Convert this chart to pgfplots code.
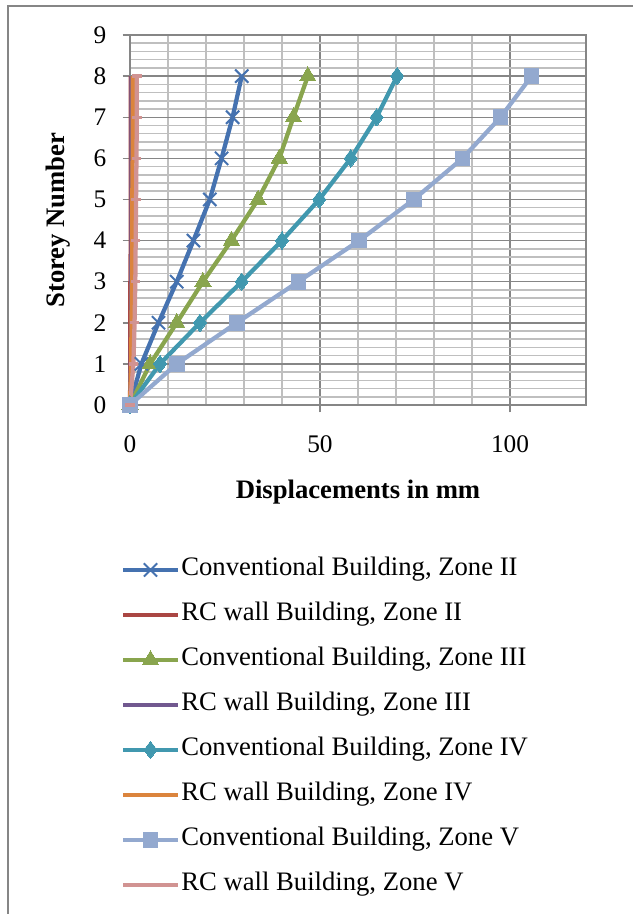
\documentclass[border=0pt]{standalone}
\usepackage{fontspec}
\setmainfont{Liberation Serif}
\usepackage{pgfplots}
\pgfplotsset{compat=1.18}
\definecolor{cI}{HTML}{4572B0}
\definecolor{cII}{HTML}{AA4643}
\definecolor{cIII}{HTML}{89A54E}
\definecolor{cIV}{HTML}{71588F}
\definecolor{cV}{HTML}{4198AF}
\definecolor{cVI}{HTML}{DB843D}
\definecolor{cVII}{HTML}{93A9CF}
\definecolor{cVIII}{HTML}{D19392}
\definecolor{majgrid}{HTML}{868686}
\definecolor{mingrid}{HTML}{BFBFBF}
\begin{document}
\begin{tikzpicture}
\begin{axis}[
  scale only axis,
  width=342pt, height=277.5pt,
  xmin=0, xmax=120, ymin=0, ymax=9,
  xtick={0,50,100}, ytick={0,1,...,9},
  minor x tick num=4, minor y tick num=4,
  grid=both,
  major grid style={majgrid, line width=1.1pt},
  minor grid style={mingrid, line width=1.2pt},
  axis line style={majgrid, line width=1.1pt},
  tick style={majgrid, line width=1.1pt},
  major tick length=5.5pt,
  minor tick length=0pt,
  tick align=outside,
  xtick pos=bottom, ytick pos=left,
  /pgf/number format/assume math mode=true,
  tick label style={font=\fontsize{19}{22}\selectfont},
  xticklabel style={anchor=center, yshift=-24pt},
  yticklabel style={anchor=center, xshift=-17pt},
  xlabel={\textbf{Displacements in mm}},
  ylabel={\textbf{Storey Number}},
  label style={font=\fontsize{20}{24}\selectfont},
  xlabel style={at={(axis description cs:0.5,0)}, anchor=center, yshift=-65.25pt},
  ylabel style={at={(axis description cs:0,0.5)}, anchor=center, rotate=0, yshift=54pt},
  clip=false,
  legend cell align=left,
  legend style={
    at={(axis description cs:-0.029,-0.4036)}, anchor=north west,
    draw=none, fill=none,
    font=\fontsize{20}{24}\selectfont,
    nodes={inner sep=0pt, text height=14pt, text depth=5pt},
    row sep=14.75pt, column sep=1pt,
  },
  legend image code/.code={\draw[mark repeat=2,mark phase=2,#1] plot coordinates {(0pt,0pt) (20.5pt,0pt) (41pt,0pt)};},
  every axis plot/.append style={line width=3.2pt},
]
\addplot[cI, mark=x, mark size=7pt, mark options={line width=1.5pt}] coordinates {
(0,0) (3.0,1) (7.5,2) (12.3,3) (16.7,4) (21.0,5) (24.1,6) (27.0,7) (29.4,8)};
\addlegendentry{Conventional Building, Zone II}
\addplot[cII] coordinates {
(0,0) (0.1,1) (0.1,2) (0.1,3) (0.2,4) (0.2,5) (0.2,6) (0.2,7) (0.2,8)};
\addlegendentry{RC wall Building, Zone II}
\addplot[cIII, mark=triangle*, mark size=7pt, mark options={line width=0pt}] coordinates {
(0,0) (5.3,1) (12.3,2) (19.2,3) (26.7,4) (33.7,5) (39.3,6) (43.0,7) (46.8,8)};
\addlegendentry{Conventional Building, Zone III}
\addplot[cIV] coordinates {
(0,0) (0.2,1) (0.3,2) (0.3,3) (0.4,4) (0.4,5) (0.4,6) (0.4,7) (0.4,8)};
\addlegendentry{RC wall Building, Zone III}
\addplot[cV, mark=diamond*, mark size=6.5pt, mark options={line width=0pt}] coordinates {
(0,0) (7.9,1) (18.4,2) (29.4,3) (40.0,4) (49.8,5) (58.1,6) (64.9,7) (70.3,8)};
\addlegendentry{Conventional Building, Zone IV}
\addplot[cVI] coordinates {
(0,0) (0.3,1) (0.4,2) (0.5,3) (0.6,4) (0.6,5) (0.7,6) (0.7,7) (0.7,8)};
\addlegendentry{RC wall Building, Zone IV}
\addplot[cVII, mark=square*, mark size=5.5pt, mark options={line width=0pt}] coordinates {
(0,0) (12.3,1) (28.1,2) (44.3,3) (60.3,4) (74.7,5) (87.5,6) (97.5,7) (105.7,8)};
\addlegendentry{Conventional Building, Zone V}
\addplot[cVIII, mark=-, mark size=3.5pt, mark options={line width=2.5pt}] coordinates {
(0,0) (0.9,1) (1.2,2) (1.4,3) (1.5,4) (1.6,5) (1.7,6) (1.8,7) (1.8,8)};
\addlegendentry{RC wall Building, Zone V}
\end{axis}
\draw[majgrid, line width=1.5pt] (-91.5pt,-400pt) -- (-91.5pt,299.25pt) -- (400pt,299.25pt);
\pgfresetboundingbox
\path[use as bounding box] (-97.5pt,-381.75pt) rectangle (376.5pt,303.75pt);
\end{tikzpicture}
\end{document}
